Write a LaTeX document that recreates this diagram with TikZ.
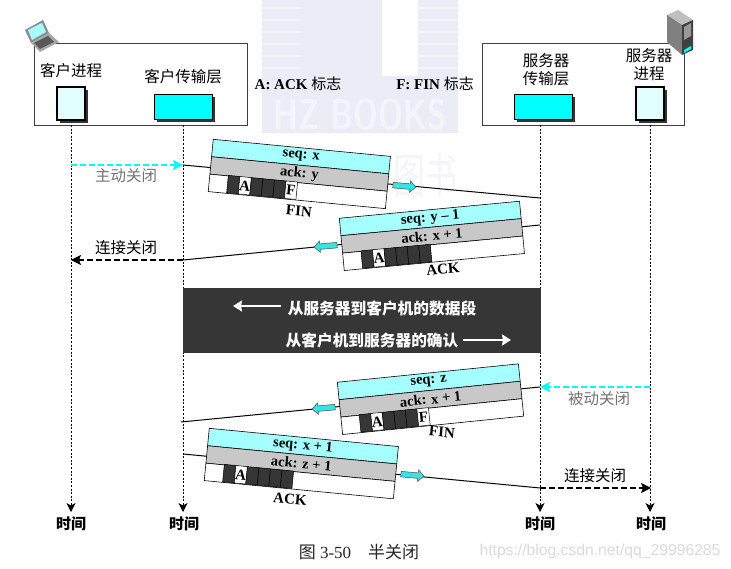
\documentclass[tikz,border=0pt]{standalone}
\usepackage{fontspec}
\setmainfont{Liberation Serif}
\newfontfamily\cjk{Noto Sans CJK SC}
\newfontfamily\webfont{Liberation Sans}
\usetikzlibrary{arrows.meta,shadows,shapes.arrows}
\definecolor{purecyan}{HTML}{00FFFF}
\definecolor{flowcyan}{HTML}{33E5E5}
\definecolor{procfill}{HTML}{E2FFFF}
\definecolor{seqcyan}{HTML}{A6FFFF}
\definecolor{ackgray}{HTML}{C8C8C8}
\definecolor{darkcell}{HTML}{363636}
\definecolor{pale}{HTML}{ECECF7}
\definecolor{paler}{HTML}{F4F4FB}
\tikzset{
  label/.style={font=\cjk\fontsize{15.5}{16}\selectfont, inner sep=0pt, align=center},
  greylabel/.style={label, text=black!55},
  timelabel/.style={label, font=\cjk\bfseries\fontsize{15}{16}\selectfont},
  darklabel/.style={label, font=\cjk\bfseries\fontsize{15.7}{16}\selectfont, text=white},
  boldlabel/.style={font=\bfseries\fontsize{15}{16}\selectfont, inner sep=0pt},
  flaglabel/.style={font=\bfseries\fontsize{15}{16}\selectfont, inner sep=0pt},
  hostbox/.style={draw=black!75, line width=0.8pt, fill=white},
  procbox/.style={draw=black, line width=1.2pt, fill=procfill, minimum width=28pt, minimum height=33pt, inner sep=0pt,
    drop shadow={shadow xshift=3pt, shadow yshift=-3pt, fill=black!80, opacity=1}},
  transbox/.style={draw=black, line width=0.7pt, fill=purecyan, minimum width=58pt, minimum height=25pt, inner sep=0pt,
    drop shadow={shadow xshift=3pt, shadow yshift=-3pt, fill=black!80, opacity=1}},
  lifeline/.style={line width=0.7pt, dash pattern=on 2pt off 1.6pt, -{Stealth[length=9pt,width=9pt,inset=2.5pt]}},
  closeline/.style={line width=1.1pt, dash pattern=on 6pt off 3pt, -{Stealth[length=10pt,width=10pt,inset=2pt]}},
  segline/.style={line width=1pt},
  band/.style={draw=black, line width=0.6pt, minimum height=17.5pt, inner sep=0pt, anchor=north west, font=\bfseries\fontsize{14.5}{15}\selectfont},
  onecell/.style={draw=black, line width=0.5pt, minimum width=11.6pt, minimum height=17.5pt, inner sep=0pt, anchor=south west, fill=darkcell},
  flagcell/.style={onecell, fill=white, font=\bfseries\fontsize{15}{16}\selectfont},
  flowarrow/.style={single arrow, draw=black!70, line width=0.5pt, fill=flowcyan, minimum height=23pt, single arrow head extend=3pt, inner xsep=0pt, inner ysep=2.5pt},
  whitearrow/.style={draw=white, line width=2.6pt, -{Stealth[length=9pt,width=11pt,inset=1pt]}}
}
\def\finflags{0/onecell/,1/flagcell/A,2/onecell/,3/onecell/,4/onecell/,5/flagcell/F}
\def\ackflags{0/onecell/,1/flagcell/A,2/onecell/,3/onecell/,4/onecell/,5/onecell/}
% name, top left corner, angle, width, seq text, ack text, flags
\newcommand{\pktseg}[7]{
  \begin{scope}[shift={(#2)}, rotate=#3, transform shape]
    \node[band, fill=seqcyan, minimum width=#4pt] (#1-seq) at (0,0) {#5};
    \node[band, fill=ackgray, minimum width=#4pt] (#1-ack) at (0,17.5) {#6};
    \node[band, fill=white, minimum width=#4pt] (#1-flags) at (0,35) {};
    \foreach \i/\sty/\lab in #7 {
      \node[\sty] (#1-cell\i) at ({18.5+11.6*\i},52.5) {\lab};
    }
  \end{scope}
}
\begin{document}
\begin{tikzpicture}[x=1pt,y=-1pt]
  \useasboundingbox (0,0) rectangle (731,569);

  % Watermark behind the picture
  \fill[pale] (262,0) rectangle (458,133);
  \fill[white] (382,0) rectangle (418,76);
  \foreach \yy in {8,20,32,44,56,68} {
    \draw[paler, line width=1.5pt] (262,\yy) -- (300,\yy);
    \draw[paler, line width=1.5pt] (418,\yy) -- (458,\yy);
  }
  \node[font=\sffamily\bfseries\fontsize{33}{35}\selectfont, text=paler, inner sep=0pt] (hzmark) at (360,115) {\scalebox{0.95}[1.3]{HZ BOOKS}};
  \node[font=\cjk\fontsize{32}{34}\selectfont, text=paler, inner sep=0pt] (bookmark) at (425,175) {\scalebox{1}[1.5]{图书}};

  % Hosts and their boxes
  \draw[hostbox] (34,43) rectangle (247,125);
  \draw[hostbox] (482,43) rectangle (684,125);
  \node[procbox] (cproc) at (71,103.5) {};
  \node[transbox] (ctrans) at (183,106.5) {};
  \node[transbox] (strans) at (543,106.5) {};
  \node[procbox] (sproc) at (650,103.5) {};
  \node[label] (cproclab) at (71,71) {客户进程};
  \node[label] (ctranslab) at (183,77) {客户传输层};
  \node[label] (stranslab) at (546,70) {服务器\\[2pt]传输层};
  \node[label] (sproclab) at (649,65) {服务器\\[2pt]进程};
  \node[flaglabel] (aflag) at (298,84) {A: ACK {\cjk\mdseries 标志}};
  \node[flaglabel] (fflag) at (435,84) {F: FIN {\cjk\mdseries 标志}};

  % Laptop
  \fill[black!45] (25,30) -- (43,20) -- (49,33) -- (31,43) -- cycle;
  \fill[seqcyan] (28,30) -- (42,23) -- (46,32) -- (32,40) -- cycle;
  \fill[black!35] (31,43) -- (49,33) -- (59,42) -- (40,52) -- cycle;
  \fill[black!65] (34,43) -- (48,36) -- (54,42) -- (40,49) -- cycle;

  % Server
  \fill[black!25] (667,15) -- (678,10) -- (693,20) -- (682,25) -- cycle;
  \fill[black!50] (667,15) -- (682,25) -- (682,55) -- (667,42) -- cycle;
  \fill[black!75] (682,25) -- (693,20) -- (693,50) -- (682,55) -- cycle;
  \fill[black!40] (684,27) -- (691,23) -- (691,36) -- (684,40) -- cycle;
  \fill[purecyan] (684,50) -- (691,46) -- (691,49) -- (684,53) -- cycle;

  % Time lines
  \foreach \nm/\xx in {cproc/71,ctrans/183,strans/540,sproc/650} {
    \coordinate (\nm-top) at (\xx,125);
    \coordinate (\nm-end) at (\xx,512);
    \draw[lifeline] (\nm-top) -- (\nm-end);
  }
  \node[timelabel] (time1) at (71,524) {时间};
  \node[timelabel] (time2) at (184,524) {时间};
  \node[timelabel] (time3) at (540,524) {时间};
  \node[timelabel] (time4) at (651,524) {时间};

  % Points where the lines meet the time lines
  \coordinate (actc) at (71,165);
  \coordinate (acts) at (183,165);
  \coordinate (fin1r) at (540,198);
  \coordinate (ack1r) at (540,225);
  \coordinate (ack1l) at (183,260);
  \coordinate (done1) at (71,260);
  \coordinate (pass1) at (650,387);
  \coordinate (pass2) at (540,387);
  \coordinate (fin2l) at (181,422);
  \coordinate (ack2l) at (183,454);
  \coordinate (ack2r) at (540,488);
  \coordinate (done2) at (651,488);

  \draw[closeline, purecyan] (actc) -- (acts);
  \draw[closeline] (ack1l) -- (done1);
  \draw[closeline, purecyan] (pass1) -- (pass2);
  \draw[closeline] (ack2r) -- (done2);
  \draw[segline] (acts) -- (fin1r);
  \draw[segline] (ack1r) -- (ack1l);
  \draw[segline] (pass2) -- (fin2l);
  \draw[segline] (ack2l) -- (ack2r);

  \node[greylabel] (activelab) at (126,176) {主动关闭};
  \node[label] (done1lab) at (126,248) {连接关闭};
  \node[greylabel] (passivelab) at (599,399) {被动关闭};
  \node[label] (done2lab) at (595,476) {连接关闭};

  % The four segments
  \pktseg{seg1}{213,139}{-5.5}{178}{seq: x}{ack: y}{\finflags}
  \pktseg{seg2}{339,218}{5.4}{181}{seq: y -- 1}{ack: x + 1}{\ackflags}
  \pktseg{seg3}{337,382}{5.8}{182}{seq: z}{ack: x + 1}{\finflags}
  \pktseg{seg4}{209,428}{-5.5}{190}{seq: x + 1\hspace{16pt}}{ack: z + 1\hspace{16pt}}{\ackflags}

  \node[flowarrow, rotate=-5] (dir1) at (403,186) {};
  \node[flowarrow, rotate=185] (dir2) at (327,246) {};
  \node[flowarrow, rotate=185] (dir3) at (325,408) {};
  \node[flowarrow, rotate=-5] (dir4) at (411,475) {};

  \node[boldlabel, rotate=-5] (fin1lab) at (299,211) {FIN};
  \node[boldlabel, rotate=5] (ack1lab) at (443,269) {ACK};
  \node[boldlabel, rotate=-5] (fin2lab) at (442,432) {FIN};
  \node[boldlabel, rotate=-5] (ack2lab) at (290,499) {ACK};

  % Dark box with the data segments
  \fill[darkcell] (183,288) rectangle (541,353);
  \node[darklabel] (datalab) at (382,308) {从服务器到客户机的数据段};
  \node[darklabel] (acklab) at (372,340) {从客户机到服务器的确认};
  \coordinate (datar) at (281,306);
  \coordinate (datal) at (233,306);
  \coordinate (ackl) at (463,340);
  \coordinate (ackr) at (511,340);
  \draw[whitearrow] (datar) -- (datal);
  \draw[whitearrow] (ackl) -- (ackr);

  % Caption and web address
  \node[font=\fontsize{17}{18}\selectfont, inner sep=0pt, text=black!85] (caption) at (359,552) {{\cjk 图} 3-50\quad{\cjk 半关闭}};
  \node[font=\webfont\fontsize{15.7}{16}\selectfont, inner sep=0pt, text=black!14] (webmark) at (600,551) {https://blog.csdn.net/qq\_29996285};
\end{tikzpicture}
\end{document}
